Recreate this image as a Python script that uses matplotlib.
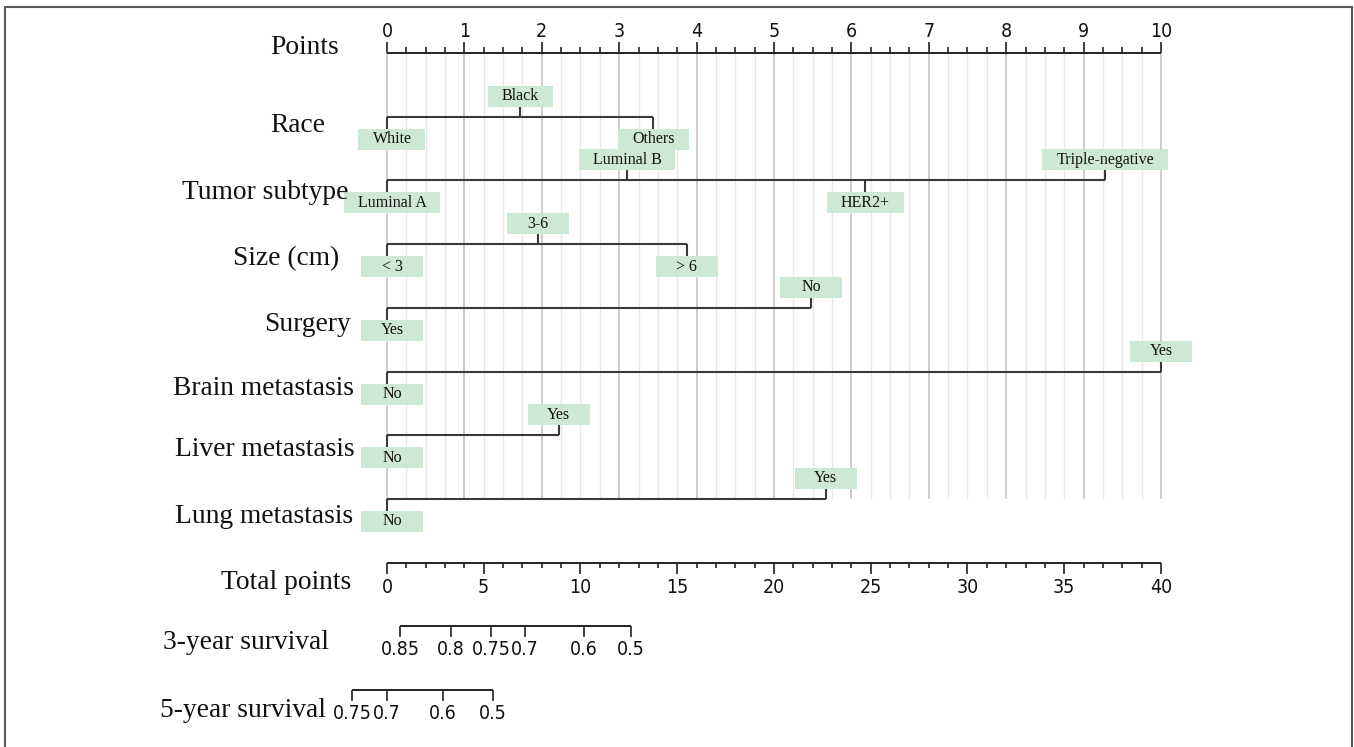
import matplotlib
matplotlib.use("Agg")
import matplotlib.pyplot as plt
from matplotlib import font_manager
from matplotlib.patches import Rectangle
from matplotlib.transforms import blended_transform_factory
import numpy as np

# nomogram data (points per level)
race_levels = ["White", "Black", "Others"]
race_points = [0, 1.72, 3.44]
subtype_levels = ["Luminal A", "Luminal B", "HER2+", "Triple-negative"]
subtype_points = [0, 3.10, 6.18, 9.28]
size_levels = ["< 3", "3-6", "> 6"]
size_points = [0, 1.95, 3.87]
surgery_levels = ["Yes", "No"]
surgery_points = [0, 5.48]
brain_levels = ["No", "Yes"]
brain_points = [0, 10]
liver_levels = ["No", "Yes"]
liver_points = [0, 2.22]
lung_levels = ["No", "Yes"]
lung_points = [0, 5.67]

row_names = ["Points", "Race", "Tumor subtype", "Size (cm)", "Surgery",
             "Brain metastasis", "Liver metastasis", "Lung metastasis",
             "Total points", "3-year survival", "5-year survival"]

points_ticks = list(range(0, 11))
total_ticks = list(range(0, 41, 5))
surv3_labels = ["0.85", "0.8", "0.75", "0.7", "0.6", "0.5"]
surv3_total = [0.67, 3.31, 5.37, 7.13, 10.18, 12.6]
surv5_labels = ["0.75", "0.7", "0.6", "0.5"]
surv5_total = [-1.81, 0, 2.89, 5.48]

# layout (pixels)
W, H = 1354, 747
X0, PX = 387, 77.4      # x pixel of 0 points, pixels per point
Y0, ROW = 53, 63.7      # y pixel of the Points row, pixels per row
label_left = [270, 270, 182, 233, 264, 173, 175, 175, 221, 163, 160]
label_base = [1, 15, 19, 21, 23, 23, 21, 24, 26, 23, 27]

BOX = "#cde8d5"
LINE = "#3a3a3a"

fonts = font_manager.fontManager.ttflist
names = {f.name for f in fonts}
if "Liberation Sans Narrow" in names:
    tick_kw = dict(family="Liberation Sans Narrow", fontsize=14.5)
elif any(f.name == "DejaVu Sans" and f.stretch == "condensed" for f in fonts):
    tick_kw = dict(family="DejaVu Sans", stretch="condensed", fontsize=14)
else:
    tick_kw = dict(family="Liberation Sans", fontsize=13.5)
serif = "Liberation Serif"


def dx(px):
    return px / PX


def dy(px):
    return px / ROW


fig = plt.figure(figsize=(W / 100, H / 100), dpi=100)
ax = fig.add_axes([0, 0, 1, 1])
ax.set_xlim(-X0 / PX, (W - X0) / PX)
ax.set_ylim((H - Y0) / ROW, -Y0 / ROW)
ax.axis("off")

# grid
for v in np.arange(0, 10.001, 0.25):
    major = abs(v - round(v)) < 1e-9
    ax.vlines(v, 0, 7, color="#c9c9c9" if major else "#e8e8e8",
              lw=1.3 if major else 1.0, zorder=0)

# Points axis
ax.hlines(0, 0, 10, color="#222222", lw=1.4)
for v in np.arange(0, 10.001, 0.25):
    major = abs(v - round(v)) < 1e-9
    ax.vlines(v, 0, -dy(11 if major else 6), color="#222222", lw=1.2)
for v in points_ticks:
    ax.text(v, -dy(12), str(v), ha="center", va="bottom",
            color="#111111", **tick_kw)

# variable rows
fig.canvas.draw()
renderer = fig.canvas.get_renderer()
rows = [(race_levels, race_points), (subtype_levels, subtype_points),
        (size_levels, size_points), (surgery_levels, surgery_points),
        (brain_levels, brain_points), (liver_levels, liver_points),
        (lung_levels, lung_points)]
for i, (levels, pts) in enumerate(rows):
    r = i + 1
    ax.hlines(r, min(pts), max(pts), color=LINE, lw=1.5, zorder=2)
    for j, (lab, p) in enumerate(zip(levels, pts)):
        above = j % 2 == 1
        if above:
            ax.vlines(p, r, r - dy(10), color=LINE, lw=1.5, zorder=2)
            top, bot = r - dy(31), r - dy(10)
        else:
            ax.vlines(p, r, r + dy(12), color=LINE, lw=1.5, zorder=2)
            top, bot = r + dy(12), r + dy(33)
        cx = p + (dx(5) if p == 0 else 0)
        t = ax.text(cx, (top + bot) / 2, lab, ha="center", va="center",
                    fontsize=11.5, family=serif, color="#111111", zorder=4)
        tw = t.get_window_extent(renderer).width
        w = dx(max(62, tw + 28))
        ax.add_patch(Rectangle((cx - w / 2, top), w, bot - top,
                               facecolor=BOX, edgecolor="none", zorder=3))

# Total points axis
r = 8
ax.hlines(r, 0, 10, color="#222222", lw=1.4)
for v in range(0, 41):
    ax.vlines(v / 4, r, r + dy(11 if v % 5 == 0 else 5), color="#222222", lw=1.2)
for v in total_ticks:
    ax.text(v / 4, r + dy(15), str(v), ha="center", va="top",
            color="#111111", **tick_kw)

# survival axes
for r, labs, tot in [(9, surv3_labels, surv3_total), (10, surv5_labels, surv5_total)]:
    xs = [t / 4 for t in tot]
    ax.hlines(r, min(xs), max(xs), color="#222222", lw=1.4)
    for x, lab in zip(xs, labs):
        ax.vlines(x, r, r + dy(11), color="#222222", lw=1.2)
        ax.text(x, r + dy(14), lab, ha="center", va="top",
                color="#111111", **tick_kw)

# row titles
tr = blended_transform_factory(fig.transFigure, ax.transData)
for k, name in enumerate(row_names):
    ax.text(label_left[k] / W, k + dy(label_base[k]), name, transform=tr,
            ha="left", va="baseline", fontsize=19.8, family=serif, color="#111111")

# outer frame
fig.add_artist(Rectangle((5 / W, -0.02), (1352 - 5) / W, (H - 7) / H + 0.02,
                         transform=fig.transFigure, fill=False,
                         edgecolor="#5a5a5a", lw=1.5))

fig.savefig("out.png", dpi=100)
